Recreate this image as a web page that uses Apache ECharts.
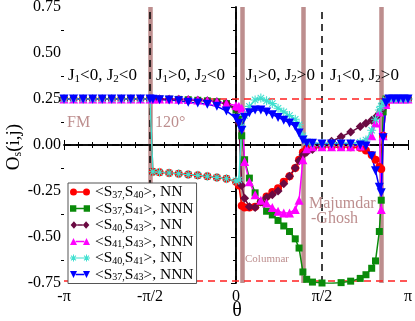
<!DOCTYPE html>
<html>
<head>
<meta charset="utf-8">
<script src="https://cdn.jsdelivr.net/npm/echarts@6/dist/echarts.min.js"></script>
<style>
  html, body { margin: 0; padding: 0; background: #fff; }
  #main { width: 415px; height: 321px; }
</style>
</head>
<body>
<div id="main"></div>
<script>
// θ in degrees (-180 = -π ... 180 = π)
var theta = [
  -180, -170, -160, -150, -140, -130, -120, -110, -100, -90,
  -87, -80, -70, -60, -50, -40, -30, -20, -10, 0,
  3, 6, 9, 14, 20, 26, 32, 38, 44, 50, 56, 62, 66, 70, 74, 80,
  90, 100, 110, 120, 130,
  136, 142, 146, 150, 152, 154, 157,
  160, 165, 170, 175, 180
];

var s37_40 = [
  0.25, 0.25, 0.25, 0.25, 0.25, 0.25, 0.25, 0.25, 0.25, 0.25,
  -0.145, -0.148, -0.152, -0.156, -0.16, -0.165, -0.17, -0.176, -0.183, -0.2,
  -0.22, -0.33, -0.34, -0.34, -0.335, -0.31, -0.28, -0.255, -0.235, -0.2, -0.17, -0.125, -0.08, -0.04, -0.02, -0.015,
  -0.01, -0.01, -0.01, -0.012, -0.015,
  -0.03, -0.055, -0.08, -0.12, -0.13, 0.05, 0.22,
  0.25, 0.25, 0.25, 0.25, 0.25
];
var s37_41 = [
  0.25, 0.25, 0.25, 0.25, 0.25, 0.25, 0.25, 0.25, 0.25, 0.25,
  0.25, 0.25, 0.249, 0.248, 0.246, 0.243, 0.24, 0.235, 0.225, 0.19,
  0.14, 0.05, -0.08, -0.18, -0.26, -0.31, -0.36, -0.38, -0.41, -0.44, -0.47, -0.51, -0.56, -0.69, -0.73, -0.745,
  -0.75, -0.752, -0.748, -0.74, -0.725,
  -0.705, -0.67, -0.63, -0.47, -0.3, 0.18, 0.25,
  0.25, 0.25, 0.25, 0.25, 0.25
];
var s40_43 = [
  0.25, 0.25, 0.25, 0.25, 0.25, 0.25, 0.25, 0.25, 0.25, 0.25,
  0.25, 0.25, 0.249, 0.248, 0.246, 0.243, 0.24, 0.235, 0.225, 0.2,
  0.12, -0.22, -0.29, -0.335, -0.34, -0.31, -0.285, -0.27, -0.25, -0.21, -0.17, -0.125, -0.085, -0.055, -0.04, -0.025,
  -0.005, 0.02, 0.045, 0.07, 0.1,
  0.118, 0.135, 0.15, 0.172, 0.19, 0.22, 0.25,
  0.25, 0.25, 0.25, 0.25, 0.25
];
var s41_43 = [
  0.25, 0.25, 0.25, 0.25, 0.25, 0.25, 0.25, 0.25, 0.25, 0.25,
  0.25, 0.25, 0.25, 0.249, 0.247, 0.245, 0.24, 0.235, 0.225, 0.215,
  0.21, 0.2, -0.09, -0.2, -0.27, -0.3, -0.315, -0.34, -0.36, -0.37, -0.37, -0.35, -0.3, -0.08, -0.02, -0.01,
  -0.01, -0.01, -0.01, -0.01, -0.005,
  0.02, 0.05, 0.12, 0.18, -0.35, 0.05, 0.22,
  0.25, 0.25, 0.25, 0.25, 0.25
];
var s40_41 = [
  0.25, 0.25, 0.25, 0.25, 0.25, 0.25, 0.25, 0.25, 0.25, 0.25,
  -0.145, -0.148, -0.152, -0.156, -0.16, -0.165, -0.17, -0.176, -0.183, -0.195,
  -0.19, 0.1, 0.16, 0.21, 0.245, 0.255, 0.24, 0.225, 0.2, 0.18, 0.16, 0.14, 0.11, 0.05, 0.015, 0.01,
  0.01, 0.01, 0.01, 0.01, 0.015,
  0.027, 0.08, 0.14, 0.19, 0.21, 0.23, 0.245,
  0.25, 0.25, 0.25, 0.25, 0.25
];
var s37_43 = [
  0.25, 0.25, 0.25, 0.25, 0.25, 0.25, 0.25, 0.25, 0.25, 0.25,
  0.248, 0.246, 0.245, 0.24, 0.232, 0.228, 0.222, 0.21, 0.185, 0.145,
  0.118, 0.08, 0.15, 0.175, 0.19, 0.19, 0.18, 0.165, 0.15, 0.135, 0.12, 0.1, 0.065, 0.027, 0.01, 0.01,
  0.005, 0.005, 0.005, 0.005, 0.0,
  -0.005, -0.06, -0.14, -0.23, -0.26, 0.04, 0.23,
  0.25, 0.25, 0.25, 0.25, 0.25
];

// legend: [site i, site j, type]
var pairs = [[37, 40, 'NN'], [37, 41, 'NNN'], [40, 43, 'NN'], [41, 43, 'NNN'], [40, 41, 'NN'], [37, 43, 'NNN']];
var transitions = [-90, 7, 70, 152];   // shaded phase boundaries
var regionLines = [-90, 0, 90];        // black dashed lines
var xTickValues = [-180, -90, 0, 90, 180];
var xTickLabels = ['-π', '-π/2', '0', 'π/2', 'π'];

var SERIF = '"Liberation Serif", "Times New Roman", serif';
var BROWN = '#bd8e8e';

function asteriskPath(cx, cy, r, w) {
  var p = '';
  [0, 45, 90, 135].forEach(function (deg) {
    var a = deg * Math.PI / 180, c = Math.cos(a), s = Math.sin(a);
    var pts = [[-r, -w], [r, -w], [r, w], [-r, w]].map(function (q) {
      return (cx + q[0] * c - q[1] * s).toFixed(2) + ',' + (cy + q[0] * s + q[1] * c).toFixed(2);
    });
    p += 'M' + pts.join(' L') + ' Z ';
  });
  return p;
}

var joinBar = 'M7,3.3 L13,3.3 L13,4.7 L7,4.7 Z';
var legendIcons = [
  'path://M0,4 A3.5,3.5 0 1 0 7,4 A3.5,3.5 0 1 0 0,4 Z M13,4 A3.5,3.5 0 1 0 20,4 A3.5,3.5 0 1 0 13,4 Z ' + joinBar,
  'path://M0.5,1 L6.5,1 L6.5,7 L0.5,7 Z M13.5,1 L19.5,1 L19.5,7 L13.5,7 Z M6.5,3.3 L13.5,3.3 L13.5,4.7 L6.5,4.7 Z',
  'path://M3.5,0 L7,4 L3.5,8 L0,4 Z M16.5,0 L20,4 L16.5,8 L13,4 Z ' + joinBar,
  'path://M3.5,0.5 L7,7.5 L0,7.5 Z M16.5,0.5 L20,7.5 L13,7.5 Z M5.7,3.3 L14.3,3.3 L14.3,4.7 L5.7,4.7 Z',
  'path://' + asteriskPath(3.5, 4, 3.5, 0.5) + asteriskPath(16.5, 4, 3.5, 0.5) + 'M7,3.5 L13,3.5 L13,4.5 L7,4.5 Z',
  'path://M0,0.5 L7,0.5 L3.5,7.5 Z M13,0.5 L20,0.5 L16.5,7.5 Z M5.7,3.3 L14.3,3.3 L14.3,4.7 L5.7,4.7 Z'
];

var seriesNames = pairs.map(function (p) { return '<S' + p[0] + ',S' + p[1] + '>, ' + p[2]; });

function makeSeries(idx, vals, color, symbol, size, rotate) {
  return {
    name: seriesNames[idx],
    type: 'line',
    data: theta.map(function (t, i) { return [t, vals[i]]; }),
    symbol: symbol,
    symbolSize: size,
    symbolRotate: rotate || 0,
    showAllSymbol: true,
    lineStyle: { color: color, width: 1.5 },
    itemStyle: { color: color },
    emphasis: { disabled: true },
    z: 3
  };
}

var dashBlack = { color: '#000', width: 1.5, type: [7, 5] };
var dashRed = { color: '#ff2020', width: 1.5, type: [7, 5] };

var series = [
  makeSeries(0, s37_40, '#ff0000', 'circle', 8),
  makeSeries(1, s37_41, '#0a8a0a', 'rect', 7),
  makeSeries(2, s40_43, '#6a0a42', 'diamond', 9),
  makeSeries(3, s41_43, '#ff00ff', 'triangle', 9),
  makeSeries(4, s40_41, '#40e0d0', 'path://' + asteriskPath(0, 0, 5, 0.6), 9),
  makeSeries(5, s37_43, '#0000ff', 'triangle', 9, 180)
];

series[0].markLine = {
  silent: true,
  symbol: 'none',
  z: 1,
  animation: false,
  label: { show: false },
  data: [].concat(
    transitions.map(function (t) { return { xAxis: t, lineStyle: { color: BROWN, width: 4.5, type: 'solid' } }; }),
    regionLines.map(function (t) { return { xAxis: t, lineStyle: dashBlack }; }),
    [{ yAxis: 0, lineStyle: dashBlack }, { yAxis: 0.25, lineStyle: dashRed }, { yAxis: -0.745, lineStyle: dashRed }]
  )
};

function subRich(size) {
  return { s: { fontSize: size, fontFamily: SERIF, lineHeight: 8, verticalAlign: 'bottom', fill: '#000' } };
}

function label(x, y, text, size, color, rich) {
  return {
    type: 'text', x: x, y: y, z: 100,
    style: {
      text: text, fontSize: size, fontFamily: SERIF, fill: color,
      lineHeight: size + 1, verticalAlign: 'middle', rich: rich
    }
  };
}

var chart = echarts.init(document.getElementById('main'));

var option = {
  animation: false,
  backgroundColor: '#fff',
  grid: { left: 64, right: 7, top: 7, bottom: 38, outerBoundsMode: 'none', containLabel: false },
  xAxis: [
    {
      type: 'value', min: -180, max: 180, interval: 90, position: 'bottom',
      axisLine: { lineStyle: { color: '#000', width: 1.5 } },
      axisTick: { inside: true, length: 5, lineStyle: { color: '#000' } },
      minorTick: { show: true, splitNumber: 6, length: 3, lineStyle: { color: '#000' } },
      splitLine: { show: false },
      axisLabel: {
        margin: 6, fontFamily: SERIF, fontSize: 16, color: '#000',
        formatter: function (v) { var i = xTickValues.indexOf(v); return i >= 0 ? xTickLabels[i] : ''; }
      }
    },
    {
      type: 'value', min: -180, max: 180, interval: 90, position: 'top',
      axisLine: { lineStyle: { color: '#000', width: 1.5 } },
      axisTick: { inside: true, length: 5, lineStyle: { color: '#000' } },
      minorTick: { show: true, splitNumber: 6, length: 3, lineStyle: { color: '#000' } },
      splitLine: { show: false },
      axisLabel: { show: false }
    }
  ],
  yAxis: [
    {
      type: 'value', min: -0.75, max: 0.75, interval: 0.25, position: 'left',
      axisLine: { lineStyle: { color: '#000', width: 1.5 } },
      axisTick: { inside: false, length: 4, lineStyle: { color: '#000' } },
      splitLine: { show: false },
      axisLabel: {
        margin: 3, fontFamily: SERIF, fontSize: 16, color: '#000',
        formatter: function (v) { return v.toFixed(2); }
      }
    },
    {
      type: 'value', min: -0.75, max: 0.75, interval: 0.25, position: 'right',
      axisLine: { lineStyle: { color: '#000', width: 1.5 } },
      axisTick: { inside: true, length: 5, lineStyle: { color: '#000' } },
      minorTick: { show: true, splitNumber: 2, length: 3, lineStyle: { color: '#000' } },
      splitLine: { show: false },
      axisLabel: { show: false }
    },
    {
      type: 'value', min: -0.75, max: 0.75, interval: 0.25, position: 'left',
      axisLine: { show: false },
      axisTick: { show: false },
      minorTick: { show: true, splitNumber: 2, length: 3, lineStyle: { color: '#000' } },
      splitLine: { show: false },
      axisLabel: { show: false }
    }
  ],
  legend: {
    orient: 'vertical', left: 68, top: 183,
    padding: [1, 3, 1, 2], itemGap: 0.5, itemWidth: 20, itemHeight: 7.5,
    backgroundColor: '#fff', borderColor: '#555', borderWidth: 1, borderRadius: 0,
    selectedMode: false,
    data: seriesNames.map(function (n, i) { return { name: n, icon: legendIcons[i] }; }),
    formatter: function (name) {
      var p = pairs[seriesNames.indexOf(name)];
      return '{n|<S}{s|' + p[0] + ',}{n|S}{s|' + p[1] + '}{n|>, ' + p[2] + '}';
    },
    textStyle: {
      fontFamily: SERIF, fontSize: 15.5, color: '#000', lineHeight: 16,
      rich: {
        n: { fontSize: 15.5, fontFamily: SERIF, lineHeight: 16, color: '#000' },
        s: { fontSize: 10, fontFamily: SERIF, lineHeight: 6, verticalAlign: 'bottom', color: '#000' }
      }
    }
  },
  graphic: [
    label(68, 76, 'J{s|1}<0, J{s|2}<0', 17, '#000', subRich(11)),
    label(156, 76, 'J{s|1}>0, J{s|2}<0', 17, '#000', subRich(11)),
    label(246, 76, 'J{s|1}>0, J{s|2}>0', 17, '#000', subRich(11)),
    label(330, 76, 'J{s|1}<0, J{s|2}>0', 17, '#000', subRich(11)),
    label(67, 123, 'FM', 16, BROWN),
    label(155, 123, '120°', 16, BROWN),
    label(309, 204, 'Majumdar', 16, BROWN),
    label(311, 219, '-Ghosh', 16, BROWN),
    label(245, 259, 'Columnar', 11, BROWN),
    {
      type: 'text', x: 237, y: 311, z: 100,
      style: { text: 'θ', fontSize: 20, fontFamily: SERIF, fill: '#000', align: 'center', verticalAlign: 'middle' }
    },
    {
      type: 'text', x: 14, y: 147, rotation: Math.PI / 2, z: 100,
      style: {
        text: 'O{s|s}(i,j)', fontSize: 19, fontFamily: SERIF, fill: '#000', lineHeight: 20,
        align: 'center', verticalAlign: 'middle',
        rich: { s: { fontSize: 12, fontFamily: SERIF, lineHeight: 8, verticalAlign: 'bottom', fill: '#000' } }
      }
    }
  ],
  series: series
};

chart.setOption(option);
</script>
</body>
</html>
